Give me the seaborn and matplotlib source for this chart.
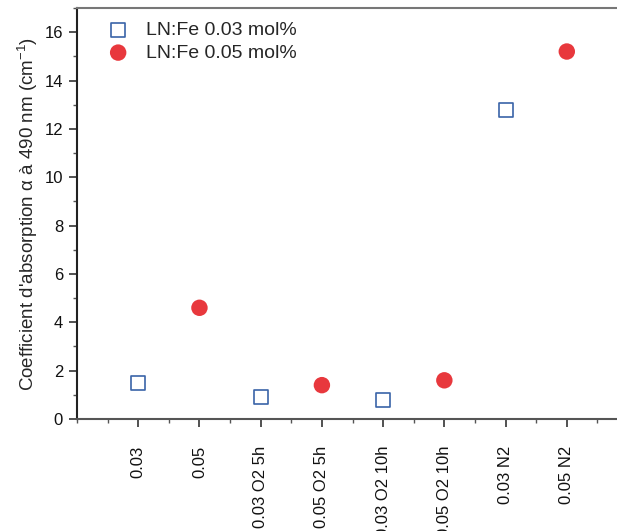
import numpy as np
import pandas as pd
import matplotlib
matplotlib.use('Agg')
import matplotlib.pyplot as plt
import seaborn as sns
from matplotlib.ticker import MultipleLocator

sns.set_style('ticks')
plt.rcParams['font.family'] = ['Liberation Sans', 'DejaVu Sans']
plt.rcParams['mathtext.fontset'] = 'custom'
plt.rcParams['mathtext.rm'] = 'Liberation Sans'

# data
categories = ['0.03', '0.05', '0.03 O2 5h', '0.05 O2 5h',
              '0.03 O2 10h', '0.05 O2 10h', '0.03 N2', '0.05 N2']
series_003 = ['0.03', '0.03 O2 5h', '0.03 O2 10h', '0.03 N2']
values_003 = [1.5, 0.9, 0.8, 12.8]
series_005 = ['0.05', '0.05 O2 5h', '0.05 O2 10h', '0.05 N2']
values_005 = [4.6, 1.4, 1.6, 15.2]

pos = {c: i + 1 for i, c in enumerate(categories)}
df1 = pd.DataFrame({'x': [pos[c] for c in series_003], 'y': values_003})
df2 = pd.DataFrame({'x': [pos[c] for c in series_005], 'y': values_005})

fig = plt.figure(figsize=(6.17, 5.31), dpi=100)
ax = fig.add_axes([77 / 617, 1 - 419 / 531, 1 - 77 / 617, (419 - 8) / 531])

sns.scatterplot(data=df1, x='x', y='y', ax=ax, marker='s', s=105,
                facecolor='white', edgecolor='#3a64a8', linewidth=1.2,
                label='LN:Fe 0.03 mol%', zorder=3)
sns.scatterplot(data=df2, x='x', y='y', ax=ax, marker='o', s=140,
                color='#e8383d', edgecolor='none',
                label='LN:Fe 0.05 mol%', zorder=3)

ax.set_xlim(0, 8.82)
ax.set_ylim(0, 17)
ax.set_xticks(range(1, len(categories) + 1))
ax.set_xticklabels(categories, rotation=90, va='top')
ax.xaxis.set_minor_locator(MultipleLocator(0.5))
ax.yaxis.set_major_locator(MultipleLocator(2))
ax.yaxis.set_minor_locator(MultipleLocator(1))
ax.tick_params(axis='both', which='major', direction='out', length=6,
               width=1.2, labelsize=12, color='#333333', labelcolor='#111111')
ax.tick_params(axis='both', which='minor', direction='out', length=3,
               width=1.0, color='#555555')
ax.tick_params(axis='x', which='major', pad=13)
ax.tick_params(axis='y', which='major', pad=4)

ax.set_xlabel('')
ax.set_ylabel("Coefficient d'absorption α à 490 nm (cm$^{-1}$)",
              fontsize=13.5, labelpad=3)

for side in ['left', 'bottom', 'top']:
    ax.spines[side].set_visible(True)
    ax.spines[side].set_linewidth(1.5)
ax.spines['left'].set_color('#222222')
ax.spines['bottom'].set_color('#555555')
ax.spines['top'].set_color('#777777')
ax.spines['right'].set_visible(False)

ax.legend(loc='upper left', bbox_to_anchor=(0.015, 1.0), frameon=False,
          fontsize=14, handletextpad=0.45, labelspacing=0.25,
          borderaxespad=0.3)

plt.savefig('out.png', dpi=100)
